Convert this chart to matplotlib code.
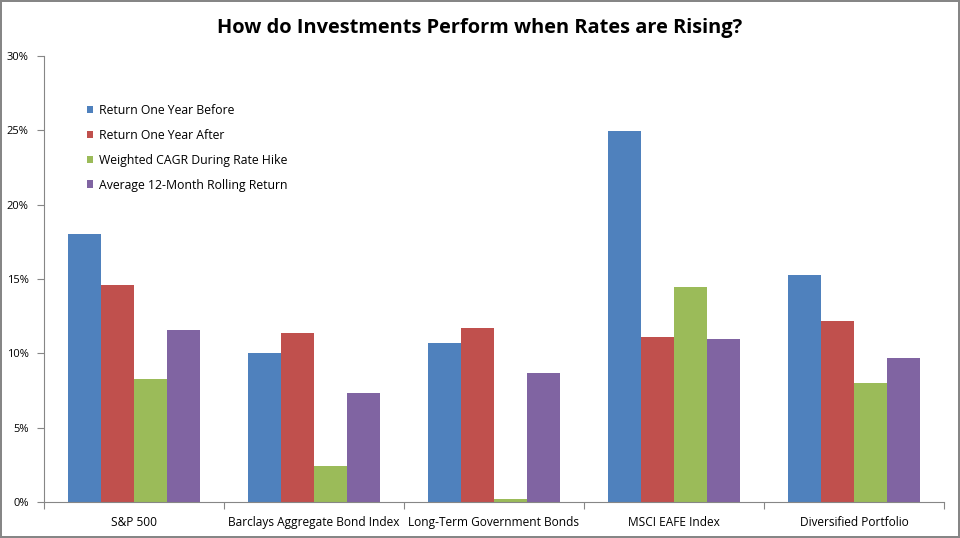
import matplotlib
matplotlib.use("Agg")
import matplotlib.pyplot as plt
import numpy as np
from matplotlib.ticker import FuncFormatter, MultipleLocator

categories = ["S&P 500", "Barclays Aggregate Bond Index", "Long-Term Government Bonds",
              "MSCI EAFE Index", "Diversified Portfolio"]
series_names = ["Return One Year Before", "Return One Year After",
                "Weighted CAGR During Rate Hike", "Average 12-Month Rolling Return"]
before = [18.05, 10.0, 10.68, 24.95, 15.27]
after = [14.6, 11.35, 11.7, 11.1, 12.17]
cagr = [8.3, 2.45, 0.2, 14.46, 8.02]
rolling = [11.55, 7.3, 8.65, 10.96, 9.68]
colors = ["#4F81BD", "#C0504D", "#9BBB59", "#8064A2"]

plt.rcParams['font.family'] = ['Open Sans', 'DejaVu Sans']

fig = plt.figure(figsize=(9.6, 5.38), dpi=100)
fig.patch.set_edgecolor("#868686")
fig.patch.set_linewidth(1.5)
ax = fig.add_axes([44/960, 36/538, 900/960, 446/538])

x = np.arange(len(categories))
w = 1 / (4 + 1.45)
data = [before, after, cagr, rolling]
for i, (vals, name, c) in enumerate(zip(data, series_names, colors)):
    ax.bar(x + (i - 1.5) * w, vals, width=w, color=c, label=name, linewidth=0)

ax.set_xlim(-0.5, len(categories) - 0.5)
ax.set_ylim(0, 30)
ax.yaxis.set_major_locator(MultipleLocator(5))
ax.yaxis.set_major_formatter(FuncFormatter(lambda v, p: f"{v:.0f}%"))
ax.set_xticks(np.arange(len(categories) + 1) - 0.5, minor=False)
ax.set_xticklabels([])
ax.set_xticks(x, minor=True)
ax.set_xticklabels(categories, minor=True)
ax.tick_params(axis='x', which='minor', length=0, pad=10, labelsize=8.6)
ax.tick_params(axis='x', which='major', length=5, color="#868686", direction='out')
ax.tick_params(axis='y', length=5, color="#868686", labelsize=8, pad=6)
for s in ["top", "right"]:
    ax.spines[s].set_visible(False)
for s in ["left", "bottom"]:
    ax.spines[s].set_color("#868686")

leg = ax.legend(loc='upper left', bbox_to_anchor=(0.035, 0.918), frameon=False,
                fontsize=8.8, handlelength=0.55, handleheight=0.55, labelspacing=0.98,
                handletextpad=0.5)

fig.text(0.5, 0.948, "How do Investments Perform when Rates are Rising?",
         ha='center', va='center', fontsize=14.4, fontweight='bold')

fig.savefig("out.png", dpi=100, edgecolor=fig.get_edgecolor())
